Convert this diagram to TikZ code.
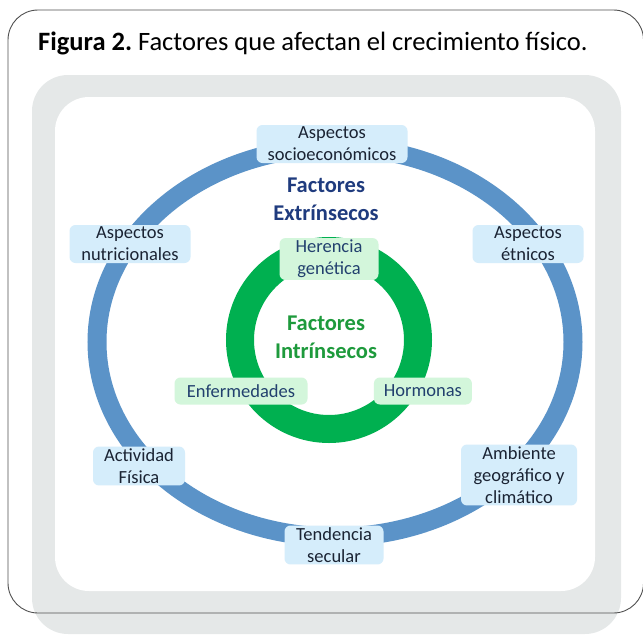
\documentclass[tikz,border=0pt]{standalone}
\usepackage{fontspec}
\setmainfont{Carlito}
\usepackage{tikz}
\usetikzlibrary{positioning}
\frenchspacing

\definecolor{anilloazul}{HTML}{5B93C8}
\definecolor{anilloverde}{HTML}{00B050}
\definecolor{cajaazul}{HTML}{D5EDFB}
\definecolor{cajaverde}{HTML}{D3F6DB}
\definecolor{textocaja}{HTML}{1A2333}
\definecolor{textoverde}{HTML}{22406E}
\definecolor{marino}{HTML}{1F3B7E}
\definecolor{verdeosc}{HTML}{1E9A3C}
\definecolor{fondogris}{HTML}{E5E8E8}
\definecolor{bordegris}{HTML}{505050}

\begin{document}
\begin{tikzpicture} [x=1pt, y=-1pt,
                    factor/.style={fill=cajaazul,rounded corners=6pt,align=center,text=textocaja,
                    inner xsep=2pt,inner ysep=2pt,minimum height=27pt,font=\fontsize{18.5}{22}\selectfont},
                    interno/.style={factor,fill=cajaverde,text=textoverde},
                    grupo/.style={align=center,font=\fontsize{22.5}{28}\selectfont\bfseries}]

\useasboundingbox (0,0) rectangle (643,635);

% marco y fondo
\fill[fondogris,rounded corners=36pt] (32,75) rectangle (621,634);
\fill[white,rounded corners=34pt] (55,97) rectangle (595,591);
\draw[bordegris,line width=0.9pt,rounded corners=30pt] (8,10) rectangle (643.5,613);

\node[anchor=base west,inner xsep=0pt,font=\fontsize{26.5}{30}\selectfont] (titulo) at (38,50)
    {\textbf{Figura 2.} Factores que afectan el crecimiento físico.};

% anillos
\draw[anilloazul,line width=19pt] (335,342) ellipse [x radius=238pt, y radius=195pt];
\draw[anilloverde,line width=28pt] (329,340) circle [radius=89pt];

\node[grupo,text=marino] (extrinsecos) at (326,199) {Factores\\Extrínsecos};
\node[grupo,text=verdeosc] (intrinsecos) at (326,337) {Factores\\Intrínsecos};

\node[factor,minimum width=151pt] (socioeco) at (332,144) {Aspectos\\socioeconómicos};
\node[factor,minimum width=121pt] (nutricion) at (130,244) {Aspectos\\nutricionales};
\node[factor,minimum width=111pt] (etnicos) at (528,244) {Aspectos\\étnicos};
\node[factor,minimum width=92pt] (actividad) at (139,466) {Actividad\\Física};
\node[factor,minimum width=116pt] (ambiente) at (519,475) {Ambiente\\geográfico y\\climático};
\node[factor,minimum width=99pt] (tendencia) at (334,545) {Tendencia\\secular};

\node[interno,minimum width=99pt] (herencia) at (329,259) {Herencia\\genética};
\node[interno,minimum width=133pt] (enfermedades) at (241,391) {Enfermedades};
\node[interno,minimum width=98pt] (hormonas) [right=66pt of enfermedades] {Hormonas};
\end{tikzpicture}
\end{document}
